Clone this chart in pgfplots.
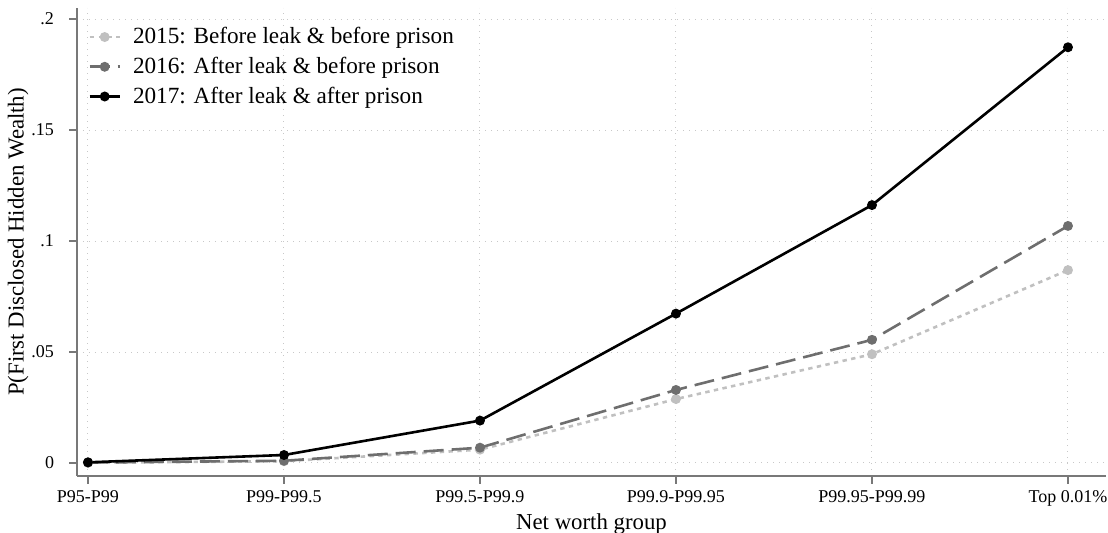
\documentclass[border=0pt]{standalone}
\usepackage{pgfplots}
\pgfplotsset{compat=1.18}
\usepackage{fontspec}
\setmainfont{Liberation Serif}
\definecolor{c15}{RGB}{192,192,192}
\definecolor{c16}{RGB}{110,110,110}
\definecolor{gridc}{RGB}{200,200,200}
\definecolor{axc}{RGB}{120,120,120}
\begin{document}
\begin{tikzpicture}
\begin{axis}[
  scale only axis,
  width=514.5pt, height=234pt,
  xmin=-0.0561, xmax=5.194,
  ymin=-0.00586, ymax=0.205,
  axis lines*=left,
  axis line style={draw=axc, line width=0.7pt},
  tick style={draw=axc, line width=0.7pt},
  tick align=outside,
  major tick length=3.8pt,
  xtick={0,1,2,3,4,5},
  xticklabels={P95-P99,P99-P99.5,P99.5-P99.9,P99.9-P99.95,P99.95-P99.99,Top 0.01\%},
  ytick={0,0.05,0.1,0.15,0.2},
  yticklabels={0,.05,.1,.15,.2},
  xticklabel style={font=\fontsize{9}{10.8}\selectfont, anchor=base, yshift=-9.6pt},
  yticklabel style={font=\fontsize{9}{10.8}\selectfont, anchor=east, inner sep=0pt, xshift=-7.5pt},
  grid=major,
  major grid style={draw=gridc, line width=0.5pt, dash pattern=on 0.5pt off 2.5pt},
  xlabel={Net worth group},
  ylabel={P(First Disclosed Hidden Wealth)},
  label style={font=\fontsize{11.4}{13.5}\selectfont},
  xlabel style={at={(axis description cs:0.5,-0.102)}, anchor=center},
  ylabel style={at={(axis description cs:-0.0573,0.5)}, anchor=center, rotate=0},
  legend style={at={(axis description cs:0.0107,0.968)}, anchor=north west, draw=none, fill=none,
    font=\fontsize{11.6}{13.9}\selectfont, row sep=1.2pt, inner sep=0pt,
    nodes={inner ysep=2pt, inner xsep=6pt}},
  legend cell align=left,
  legend image code/.code={\draw[mark repeat=2,mark phase=2] plot coordinates {(0pt,0pt)(7.5pt,0pt)(15pt,0pt)};},
  clip=false,
]
\addplot[color=c15, line width=1.3pt, dash pattern=on 2.2pt off 2.2pt, mark=*, mark size=1.8pt, mark options={solid}]
  coordinates {(0,0.0001) (1,0.0008) (2,0.0060) (3,0.0288) (4,0.0490) (5,0.0869)};
\addlegendentry{2015: Before leak \& before prison}
\addplot[color=c16, line width=1.3pt, dash pattern=on 10pt off 4pt, mark=*, mark size=1.8pt, mark options={solid}]
  coordinates {(0,0.0002) (1,0.0010) (2,0.0069) (3,0.0329) (4,0.0555) (5,0.1068)};
\addlegendentry{2016: After leak \& before prison}
\addplot[color=black, line width=1.3pt, mark=*, mark size=1.8pt]
  coordinates {(0,0.0003) (1,0.0036) (2,0.0191) (3,0.0673) (4,0.1162) (5,0.1873)};
\addlegendentry{2017: After leak \& after prison}
\coordinate (sw) at (rel axis cs:0,0);
\end{axis}
\pgfresetboundingbox
\path[use as bounding box] ([shift={(-38.5pt,-28.5pt)}]sw) rectangle ([shift={(515.5pt,238pt)}]sw);
\end{tikzpicture}
\end{document}
